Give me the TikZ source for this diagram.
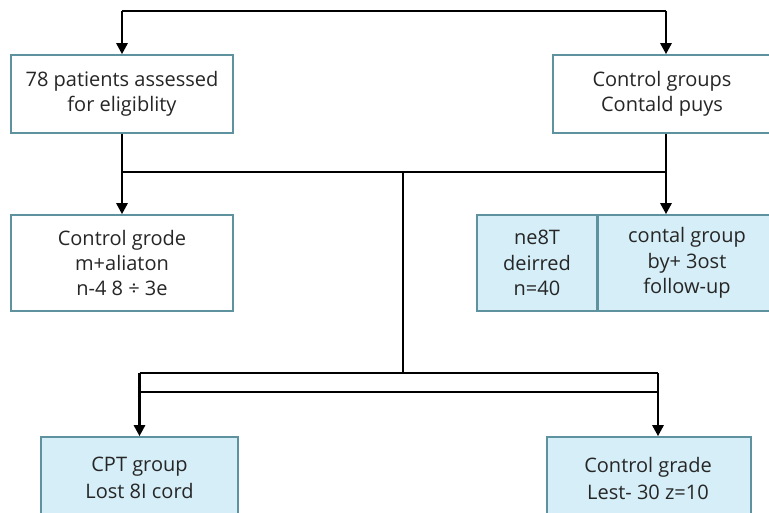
\documentclass[tikz,border=0pt]{standalone}
\usepackage{fontspec}
\setmainfont{Open Sans}
\usetikzlibrary{arrows.meta}
\definecolor{boxedge}{HTML}{5E929E}
\definecolor{boxfill}{HTML}{D5EEF7}
\definecolor{txt}{HTML}{262626}
\tikzset{
  box/.style={draw=boxedge, line width=1.6pt, fill=white, align=center, inner sep=0pt,
    font=\fontsize{20}{25.5}\selectfont, text=txt},
  bluebox/.style={box, fill=boxfill},
  label/.style={align=center, inner sep=0pt, text=txt},
  conn/.style={line width=2.6pt, black},
  arr/.style={conn, -{Triangle[width=11pt,length=11pt]}},
}
\begin{document}
\begin{tikzpicture}[x=1pt,y=-1pt]
\useasboundingbox (0,0) rectangle (769,513);
\clip (0,0) rectangle (769,513);
% top row
\node[box, minimum width=222pt, minimum height=78pt] (b1) at (122,94) {78 patients assessed\\for eligiblity};
\node[box, minimum width=230pt, minimum height=78pt] (b2) at (668,94) {};
\node[label, font=\fontsize{20}{25.5}\selectfont] (b2t) at (662,94) {Control groups\\Contald puys};
% second row
\node[box, minimum width=222pt, minimum height=96pt] (b3) at (122,263) {Control grode\\m+aliaton\\n-4 8 ÷ 3e};
\node[bluebox, minimum width=120pt, minimum height=96pt] (b4l) at (537,263) {ne8T\\deirred\\n=40};
\node[bluebox, minimum width=200pt, minimum height=96pt, anchor=west] (b4r) at (597,263) {};
\node[label, font=\fontsize{20}{25.5}\selectfont] (b4t) at (687,263) {contal group\\by+ 3ost\\follow-up};
% bottom row
\node[bluebox, minimum width=197pt, minimum height=96pt] (b5) at (139.5,485) {};
\node[label, font=\fontsize{20}{27}\selectfont] (b5t) at (139.5,478) {CPT group\\Lost 8I cord};
\node[bluebox, minimum width=204pt, minimum height=96pt] (b6) at (649,485) {};
\node[label, font=\fontsize{20}{27}\selectfont] (b6t) at (648,478) {Control grade\\Lest- 30 z=10};
% helper coordinates
\coordinate (ty) at (0,11);
\coordinate (my) at (0,172);
\coordinate (l1) at (0,373);
\coordinate (l2) at (0,392);
\coordinate (cx) at (403,0);
\coordinate (rx) at (666,0);
\coordinate (bx) at (658,0);
% top connectors
\draw[conn] (b1.north |- ty) -- (rx |- ty);
\draw[arr] (b1.north |- ty) -- (b1.north);
\draw[arr] (rx |- ty) -- (rx |- b2.north);
% middle connectors
\draw[conn] (b1.south |- my) -- (rx |- my);
\draw[arr] (b1.south) -- (b3.north);
\draw[arr] (rx |- b2.south) -- (rx |- b4r.north);
\draw[conn] (cx |- my) -- (cx |- l1);
% bottom connectors
\draw[conn] (b5.north |- l1) -- (bx |- l1);
\draw[conn] (b5.north |- l2) -- (bx |- l2);
\draw[arr] (b5.north |- l1) -- (b5.north);
\draw[arr] (bx |- l1) -- (bx |- b6.north);
\end{tikzpicture}
\end{document}
